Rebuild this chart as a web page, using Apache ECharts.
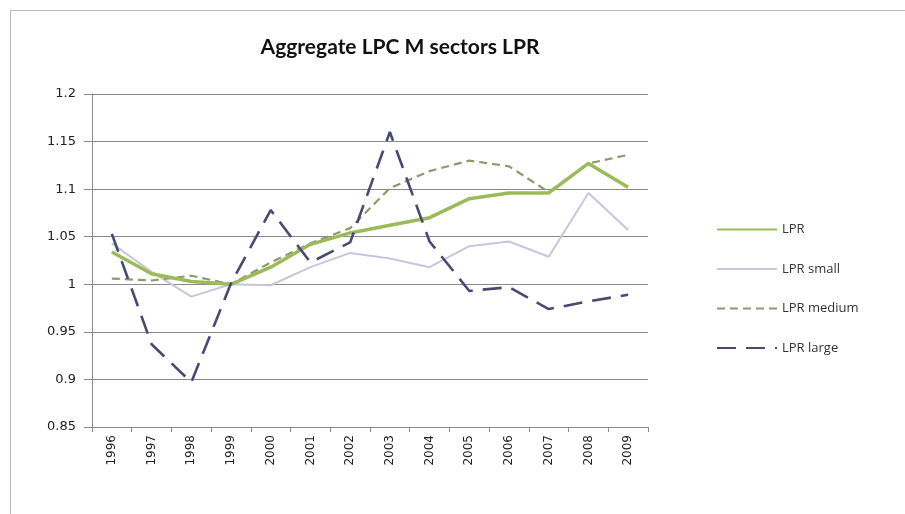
<!DOCTYPE html>
<html><head><meta charset="utf-8">
<script src="https://cdn.jsdelivr.net/npm/echarts@6/dist/echarts.min.js"></script>
<style>html,body{margin:0;padding:0;background:#fff}#c{width:905px;height:514px}</style>
</head><body><div id="c"></div>
<script>
const years = ['1996','1997','1998','1999','2000','2001','2002','2003','2004','2005','2006','2007','2008','2009'];
const lpr       = [1.034, 1.011, 1.003, 1.000, 1.018, 1.042, 1.054, 1.062, 1.070, 1.090, 1.096, 1.096, 1.127, 1.102];
const lprSmall  = [1.043, 1.013, 0.987, 1.000, 0.999, 1.018, 1.033, 1.027, 1.018, 1.040, 1.045, 1.029, 1.096, 1.057];
const lprMedium = [1.006, 1.004, 1.009, 1.000, 1.023, 1.043, 1.059, 1.101, 1.119, 1.130, 1.124, 1.097, 1.127, 1.136];
const lprLarge  = [1.053, 0.937, 0.897, 1.001, 1.078, 1.023, 1.044, 1.160, 1.045, 0.993, 0.997, 0.974, 0.982, 0.989];
const seriesNames = ['LPR', 'LPR small', 'LPR medium', 'LPR large'];
const yTicks = { min: 0.85, max: 1.2, interval: 0.05 };

const chart = echarts.init(document.getElementById('c'), null, {renderer: 'canvas'});
const font = 'DejaVu Sans, Verdana, sans-serif';
chart.setOption({
  backgroundColor: '#fff',
  animation: false,
  graphic: [{
    type: 'rect', left: 8, top: 8,
    shape: { width: 900, height: 510 },
    style: { fill: 'none', stroke: '#b8b8b8', lineWidth: 1 }
  }],
  title: {
    text: 'Aggregate LPC M sectors LPR',
    left: 395, top: 32, textAlign: 'center',
    textStyle: { fontFamily: 'Lato, Open Sans, sans-serif', fontWeight: 'bold', fontSize: 21, color: '#111' }
  },
  legend: {
    orient: 'vertical', left: 711, top: 218,
    itemWidth: 60, itemHeight: 12, itemGap: 26.5,
    itemStyle: { opacity: 0 },
    textStyle: { fontFamily: 'Open Sans, sans-serif', fontSize: 13, color: '#333' },
    data: seriesNames
  },
  grid: { left: 92, top: 94, right: 257, bottom: 87 },
  xAxis: {
    type: 'category', data: years, boundaryGap: true,
    axisLine: { lineStyle: { color: '#8a8a8a', width: 1 } },
    axisTick: { show: true, alignWithLabel: false, length: 5, lineStyle: { color: '#8a8a8a' } },
    axisLabel: { rotate: 90, fontFamily: font, fontSize: 12, color: '#222', margin: 8 }
  },
  yAxis: {
    type: 'value', min: yTicks.min, max: yTicks.max, interval: yTicks.interval,
    axisLine: { show: true, lineStyle: { color: '#8a8a8a', width: 1 } },
    axisTick: { show: true, length: 8, lineStyle: { color: '#8a8a8a' } },
    splitLine: { lineStyle: { color: '#8a8a8a', width: 1 } },
    axisLabel: { fontFamily: font, fontSize: 13, color: '#222', margin: 16,
      formatter: v => String(Math.round(v * 100) / 100) }
  },
  series: [
    { name: seriesNames[0], type: 'line', data: lpr, symbol: 'none', z: 4,
      lineStyle: { color: '#9bbb59', width: 3.5 }, itemStyle: { color: '#9bbb59' } },
    { name: seriesNames[1], type: 'line', data: lprSmall, symbol: 'none', z: 2,
      lineStyle: { color: '#c9c5dc', width: 2 }, itemStyle: { color: '#c9c5dc' } },
    { name: seriesNames[2], type: 'line', data: lprMedium, symbol: 'none', z: 3,
      lineStyle: { color: '#8e9a6c', width: 2.2, type: [8, 5] }, itemStyle: { color: '#8e9a6c' } },
    { name: seriesNames[3], type: 'line', data: lprLarge, symbol: 'none', z: 5,
      lineStyle: { color: '#4a4972', width: 2.6, type: [19, 10] }, itemStyle: { color: '#4a4972' } }
  ]
});
</script></body></html>
